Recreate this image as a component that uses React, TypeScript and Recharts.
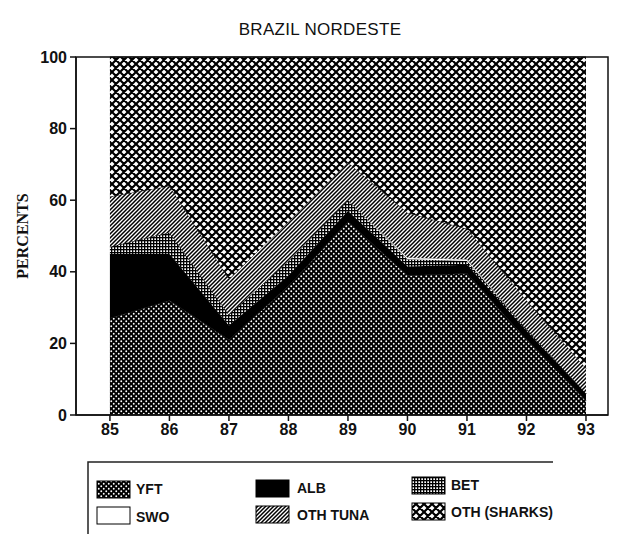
import React from "react";
import { AreaChart, Area, XAxis, YAxis, ReferenceArea } from "recharts";

const years = [85, 86, 87, 88, 89, 90, 91, 92, 93];
const yft = [27, 32, 21, 36, 54, 39, 39.5, 21, 4];
const alb = [18, 13, 4, 3, 3, 2.5, 2.5, 2.5, 2];
const bet = [2, 6, 3, 4, 3, 2, 1, 0.5, 0];
const swo = [0, 0, 0, 0, 0, 0.5, 0.5, 0, 0];
const othTuna = [14, 13, 10, 11, 10.5, 12.5, 8.5, 8, 7];
const yTicks = [0, 20, 40, 60, 80, 100];
const xDomain = [84.43, 93.37];

const data = years.map((year, i) => {
  const rest = yft[i] + alb[i] + bet[i] + swo[i] + othTuna[i];
  return {
    year,
    yft: yft[i],
    alb: alb[i],
    bet: bet[i],
    swo: swo[i],
    othTuna: othTuna[i],
    sharks: +(100 - rest).toFixed(2),
  };
});

const FONT = "'Liberation Sans', Arial, sans-serif";

const Patterns = () => (
  <defs>
    <pattern id="pYft" patternUnits="userSpaceOnUse" width="5" height="5">
      <rect width="5" height="5" fill="#000" />
      <circle cx="1.25" cy="1.25" r="0.95" fill="#fff" />
      <circle cx="3.75" cy="3.75" r="0.95" fill="#fff" />
    </pattern>
    <pattern id="pBet" patternUnits="userSpaceOnUse" width="3" height="3">
      <rect width="3" height="3" fill="#fff" />
      <rect x="0" y="0" width="3" height="1.3" fill="#000" />
      <rect x="0" y="0" width="1.3" height="3" fill="#000" />
    </pattern>
    <pattern id="pTuna" patternUnits="userSpaceOnUse" width="4" height="4">
      <rect width="4" height="4" fill="#fff" />
      <path d="M-1,1 l2,-2 M0,4 l4,-4 M3,5 l2,-2" stroke="#000" strokeWidth="1.5" />
    </pattern>
    <pattern id="pShark" patternUnits="userSpaceOnUse" width="8" height="8">
      <rect width="8" height="8" fill="#fff" />
      <path d="M0,0 L8,8 M0,8 L8,0 M-1,1 L1,-1 M7,9 L9,7 M-1,7 L1,9 M7,-1 L9,1" stroke="#000" strokeWidth="2.2" />
    </pattern>
  </defs>
);

const legendItems = [
  { label: "YFT", fill: "url(#pYft)", x: 97, y: 481, tx: 136, ty: 494 },
  { label: "ALB", fill: "#000", x: 256, y: 480, tx: 297, ty: 493 },
  { label: "BET", fill: "url(#pBet)", x: 412, y: 477, tx: 451, ty: 490 },
  { label: "SWO", fill: "#fff", x: 97, y: 507, tx: 136, ty: 522 },
  { label: "OTH  TUNA", fill: "url(#pTuna)", x: 256, y: 506, tx: 297, ty: 520 },
  { label: "OTH (SHARKS)", fill: "url(#pShark)", x: 412, y: 503, tx: 451, ty: 517 },
];

export default function App() {
  return (
    <div style={{ position: "absolute", left: 0, top: 0, width: 617, height: 535, background: "#fff", overflow: "hidden" }}>
      <div
        style={{
          position: "absolute",
          left: 0,
          width: 640,
          top: 20,
          textAlign: "center",
          fontFamily: FONT,
          fontSize: 17,
          color: "#111",
          letterSpacing: 0.3,
        }}
      >
        BRAZIL NORDESTE
      </div>
      <div style={{ position: "absolute", left: 0, top: 0 }}>
        <AreaChart
          width={617}
          height={535}
          data={data}
          margin={{ top: 57, right: 9, left: 36, bottom: 90 }}
        >
          <Patterns />
          <XAxis
            dataKey="year"
            type="number"
            domain={xDomain}
            ticks={years}
            allowDataOverflow
            stroke="#111"
            strokeWidth={1.5}
            tickSize={6}
            tickMargin={3}
            height={30}
            tick={{ fill: "#111", fontSize: 16, fontFamily: FONT, fontWeight: 600 }}
          />
          <YAxis
            domain={[0, 100]}
            ticks={yTicks}
            width={40}
            stroke="#111"
            strokeWidth={1.5}
            tickSize={6}
            tickMargin={3}
            tick={{ fill: "#111", fontSize: 16, fontFamily: FONT, fontWeight: 600 }}
            label={{
              content: () => (
                <text
                  x={22}
                  y={236}
                  transform="rotate(-90 22 236)"
                  textAnchor="middle"
                  dominantBaseline="central"
                  fontFamily="'Liberation Serif', 'Times New Roman', serif"
                  fontWeight="bold"
                  fontSize={16}
                  fill="#111"
                >
                  PERCENTS
                </text>
              ),
            }}
          />
          <Area type="linear" dataKey="yft" stackId="1" fill="url(#pYft)" fillOpacity={1} stroke="#000" strokeWidth={0.8} isAnimationActive={false} />
          <Area type="linear" dataKey="alb" stackId="1" fill="#000" fillOpacity={1} stroke="#000" strokeWidth={0.8} isAnimationActive={false} />
          <Area type="linear" dataKey="bet" stackId="1" fill="url(#pBet)" fillOpacity={1} stroke="#000" strokeWidth={0.6} isAnimationActive={false} />
          <Area type="linear" dataKey="swo" stackId="1" fill="#fff" fillOpacity={1} stroke="#000" strokeWidth={0.4} isAnimationActive={false} />
          <Area type="linear" dataKey="othTuna" stackId="1" fill="url(#pTuna)" fillOpacity={1} stroke="#000" strokeWidth={0.8} isAnimationActive={false} />
          <Area type="linear" dataKey="sharks" stackId="1" fill="url(#pShark)" fillOpacity={1} stroke="#000" strokeWidth={1} isAnimationActive={false} />
          <ReferenceArea
            x1={xDomain[0]}
            x2={xDomain[1]}
            y1={0}
            y2={100}
            fill="none"
            fillOpacity={0}
            stroke="#111"
            strokeWidth={1.5}
            ifOverflow="visible"
          />
        </AreaChart>
      </div>
      <svg
        width={617}
        height={535}
        style={{ position: "absolute", left: 0, top: 0, pointerEvents: "none" }}
      >
        <path d="M88,534 L88,462 L553,462" fill="none" stroke="#222" strokeWidth={1.5} />
        {legendItems.map((it) => (
          <g key={it.label}>
            <rect x={it.x} y={it.y} width={33} height={17} fill={it.fill} stroke="#000" strokeWidth={1} />
            <text x={it.tx} y={it.ty} fontFamily={FONT} fontSize={14} fontWeight={600} fill="#111">
              {it.label}
            </text>
          </g>
        ))}
      </svg>
    </div>
  );
}
